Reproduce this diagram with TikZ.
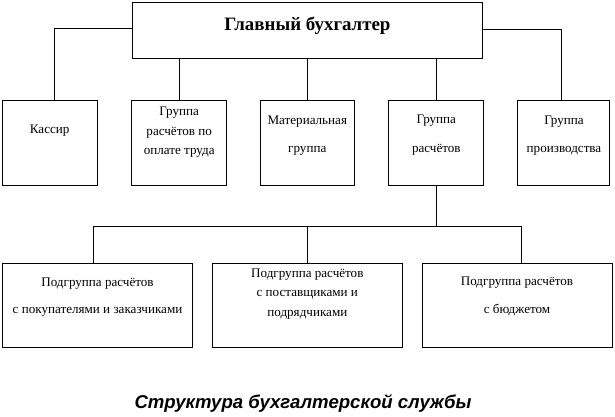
\documentclass[tikz,border=0pt]{standalone}
\usepackage{fontspec}
\setmainfont{Liberation Serif}
\newfontfamily\capfont{Liberation Sans}
\begin{document}
\begin{tikzpicture}[x=1pt,y=-1pt,
  box/.style={draw, line width=1pt, inner sep=0pt},
  conn/.style={line width=1pt},
  txt/.style={inner sep=0pt, align=center, font=\fontsize{13.1}{19.5}\selectfont},
  wide/.style={font=\fontsize{13.1}{28.5}\selectfont}]
\useasboundingbox (0,0) rectangle (615,417);
\fill[white] (0,0) rectangle (615,417);
% boxes
\node[box, minimum width=350pt, minimum height=55.6pt] (top) at (307.7,30.5) {};
\node[box, minimum width=94.6pt, minimum height=84pt] (k1) at (50,143) {};
\node[box, minimum width=95pt, minimum height=84pt] (k2) at (179.2,143) {};
\node[box, minimum width=94pt, minimum height=84pt] (k3) at (307.3,143) {};
\node[box, minimum width=95.3pt, minimum height=84pt] (k4) at (436.3,143) {};
\node[box, minimum width=92pt, minimum height=84pt] (k5) at (563.3,143) {};
\node[box, minimum width=190pt, minimum height=83.7pt] (b1) at (97.7,305.2) {};
\node[box, minimum width=190pt, minimum height=83.7pt] (b2) at (307.3,305.2) {};
\node[box, minimum width=189.7pt, minimum height=83.7pt] (b3) at (517.2,305.2) {};
% texts
\node[inner sep=0pt, font=\fontsize{18.9}{21}\selectfont\bfseries] (ttop) at (307.5,26) {Главный бухгалтер};
\node[txt] (t1) at (49.7,131) {Кассир};
\node[txt] (t2) at (179.2,132.5) {Группа\\расчётов по\\оплате труда};
\node[txt, wide] (t3) at (307.3,135.5) {Материальная\\группа};
\node[txt, wide] (t4) at (436.3,135) {Группа\\расчётов};
\node[txt, wide] (t5) at (564,135.5) {Группа\\производства};
\node[txt, font=\fontsize{13.1}{27.5}\selectfont] (t6) at (97.5,297) {Подгруппа расчётов\\с покупателями и заказчиками};
\node[txt] (t7) at (307.3,294) {Подгруппа расчётов\\с поставщиками и\\подрядчиками};
\node[txt, font=\fontsize{13.1}{27.5}\selectfont] (t8) at (517,296.5) {Подгруппа расчётов\\с бюджетом};
\node[inner sep=0pt, font=\fontsize{18.6}{21}\selectfont\capfont\bfseries\itshape] (cap) at (303,403) {Структура бухгалтерской службы};
% connectors
\coordinate (bus) at (307.3,226.5);
\draw[conn] ([yshift=1.5pt]top.west) -| ([xshift=4.3pt]k1.north);
\draw[conn] (k2.north |- top.south) -- (k2.north);
\draw[conn] (top.south -| k3.north) -- (k3.north);
\draw[conn] (k4.north |- top.south) -- (k4.north);
\draw[conn] ([yshift=1.2pt]top.east) -| ([xshift=-2.3pt]k5.north);
\draw[conn] (k4.south) -- (k4.south |- bus);
\draw[conn] ([xshift=-4.4pt]b1.north) |- (bus) -| ([xshift=4.5pt]b3.north);
\draw[conn] (b2.north) -- (bus);
\end{tikzpicture}
\end{document}
